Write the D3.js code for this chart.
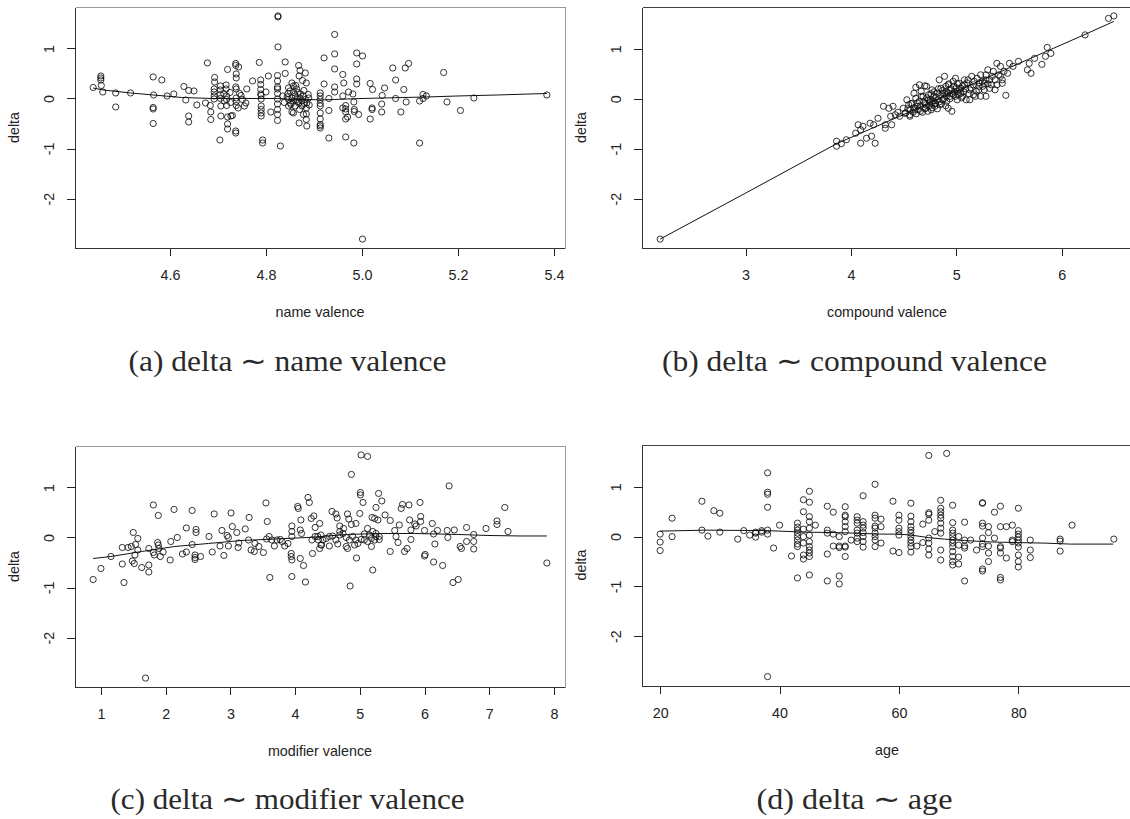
<!DOCTYPE html>
<html>
<head>
<meta charset="utf-8">
<script src="https://cdn.jsdelivr.net/npm/d3@7"></script>
<style>
  body { margin: 0; background: #fff; }
  svg { display: block; }
  .caption { font-family: "Liberation Serif", "Times New Roman", serif; font-size: 28.5px; font-weight: 400; fill: #2a2a2a; }
</style>
</head>
<body>
<svg id="chart" width="1130" height="819"></svg>
<script>
// Values (x, delta)
const namePoints = [
  [4.44,0.22],[4.456,0.45],[4.456,0.41],[4.456,0.37],[4.457,0.26],[4.46,0.13],[4.487,0.11],[4.487,-0.17],
  [4.518,0.11],[4.565,0.43],[4.583,0.37],[4.566,0.07],[4.565,-0.18],[4.565,-0.21],[4.565,-0.5],[4.594,0.05],
  [4.608,0.09],[4.629,0.24],[4.639,0.16],[4.65,0.15],[4.633,-0.03],[4.639,-0.35],[4.639,-0.47],[4.656,-0.13],
  [4.678,0.71],[4.674,-0.09],[4.684,-0.14],[4.685,-0.27],[4.685,-0.42],[4.693,0.42],[4.693,0.33],
  [4.692,0.19],[4.692,0.13],[4.692,0.05],[4.692,-0.01],[4.705,0.25],[4.705,0.17],[4.705,0.08],[4.705,0],
  [4.706,-0.15],[4.706,-0.35],[4.704,-0.83],[4.717,0.27],[4.717,0.19],[4.72,0.58],[4.718,0.05],[4.718,-0.02],
  [4.718,-0.14],[4.72,-0.37],[4.727,-0.35],[4.73,-0.34],[4.72,-0.51],[4.72,-0.61],[4.737,0.7],[4.737,0.66],
  [4.743,0.63],[4.738,0.49],[4.738,0.41],[4.737,0.23],[4.738,0.19],[4.738,0.01],[4.738,-0.06],[4.738,-0.14],
  [4.742,-0.19],[4.737,-0.65],[4.737,-0.69],[4.748,0.06],[4.751,-0.02],[4.758,-0.09],[4.755,-0.15],[4.76,0.19],
  [4.772,0.35],[4.786,0.72],[4.789,0.37],[4.789,0.28],[4.789,0.18],[4.789,0.09],[4.79,0.06],[4.79,-0.01],
  [4.79,-0.15],[4.79,-0.22],[4.79,-0.29],[4.79,-0.35],[4.793,-0.83],[4.793,-0.89],[4.8,0.13],[4.805,0.45],
  [4.81,-0.27],[4.825,1.65],[4.825,1.63],[4.825,1.03],[4.84,0.73],[4.84,0.5],
  [4.824,0.46],[4.824,0.35],[4.824,0.23],[4.824,0.19],[4.824,0.1],[4.824,-0.01],[4.824,-0.11],[4.824,-0.22],
  [4.824,-0.32],[4.824,-0.44],[4.83,-0.95],
  [4.844,0.03],[4.847,-0.02],[4.851,-0.09],[4.854,0.01],[4.857,-0.05],[4.861,0.05],[4.864,-0.02],[4.868,-0.09],
  [4.871,0.01],[4.875,-0.05],[4.878,0.05],[4.882,-0.02],[4.885,-0.09],[4.889,0.01],[4.847,-0.15],[4.861,-0.15],
  [4.875,-0.15],[4.854,-0.27],[4.857,-0.29],[4.847,0.21],[4.854,0.31],[4.857,0.25],[4.864,0.19],[4.869,0.45],
  [4.868,0.66],[4.871,0.56],[4.882,0.51],[4.884,0.31],[4.866,0.12],[4.884,-0.19],[4.884,-0.31],[4.884,-0.42],
  [4.885,-0.55],[4.869,-0.49],[4.846,0.1],[4.858,0.12],[4.872,0.09],[4.879,0.16],[4.852,-0.12],[4.866,-0.06],
  [4.88,-0.1],[4.888,0.08],[4.835,0.05],[4.838,-0.08],
  [4.712,0.1],[4.713,-0.05],[4.725,0.12],[4.726,-0.08],[4.745,0.1],[4.862,0.26],[4.876,0.36],[4.85,0.15],
  [4.87,-0.22],[4.89,-0.13],[4.878,-0.32],
  [4.943,1.28],[4.921,0.81],[4.943,0.89],[4.943,0.59],[4.989,0.91],[5.001,0.85],[4.989,0.69],[4.921,0.29],
  [4.943,0.23],[4.943,0.13],[4.96,0.48],[4.962,0.31],[4.989,0.39],[4.989,0.29],[4.972,0.13],[4.981,0.09],
  [4.96,0.05],[4.983,-0.07],[4.966,-0.14],[4.966,-0.21],[4.966,-0.27],[4.96,-0.19],[4.984,-0.22],[4.984,-0.26],
  [4.993,-0.32],[4.966,-0.41],[4.97,-0.37],[4.931,-0.24],[4.931,0],
  [4.913,0.11],[4.913,0.05],[4.913,-0.02],[4.913,-0.1],[4.913,-0.15],[4.913,-0.29],[4.913,-0.41],[4.913,-0.52],
  [4.913,-0.55],[4.913,-0.59],
  [4.931,-0.79],[4.966,-0.77],[4.983,-0.89],[5.001,-2.81],[5.017,0.3],[5.022,0.18],[5.021,-0.19],[5.021,-0.22],
  [5.017,-0.41],[5.042,0.06],[5.047,0.21],[5.041,-0.11],[5.041,-0.27],[5.064,0.61],[5.07,0.37],[5.07,0],
  [5.09,0.61],[5.097,0.7],[5.087,0.18],[5.092,-0.07],[5.081,-0.27],[5.12,-0.05],[5.127,0],[5.127,0.08],
  [5.134,0.05],[5.12,-0.89],[5.17,0.52],[5.177,-0.07],[5.205,-0.24],[5.233,0.01],[5.385,0.07]
];

const compoundPoints = [
  [2.19,-2.81],
  [3.864,-0.95],[3.864,-0.85],[3.909,-0.9],[3.957,-0.82],[4.045,-0.69],[4.069,-0.52],[4.093,-0.62],[4.093,-0.89],
  [4.148,-0.79],[4.196,-0.75],[4.23,-0.89],[4.114,-0.55],[4.182,-0.49],[4.216,-0.52],[4.257,-0.39],[4.309,-0.15],
  [4.326,-0.59],[4.326,-0.52],[4.36,-0.19],[4.377,-0.35],[4.387,-0.52],[4.4,-0.15],[4.421,-0.32],[4.445,-0.27],
  [4.496,-0.19],[4.531,-0.02],[4.548,-0.12],[4.565,-0.22],[4.582,-0.09],[4.599,0.11],[4.616,0.01],[4.633,-0.15],
  [4.65,-0.05],[4.667,0.15],[4.684,0.05],[4.701,-0.09],[4.718,0.25],[4.736,0.08],[4.753,-0.02],[4.77,0.18],
  [4.787,0.05],[4.804,-0.09],[4.821,0.11],[4.838,0.38],[4.855,0.21],[4.872,-0.02],[4.889,0.45],[4.906,0.15],
  [4.923,0.28],[4.941,0.05],[4.958,-0.25],[4.975,0.25],[4.992,0.41],[5.009,0.15],[5.026,0.31],[5.043,0.21],
  [5.06,0.05],[5.077,0.28],[5.094,-0.02],[5.111,0.38],[5.128,0.18],[5.146,0.45],[5.163,0.28],[5.18,0.05],
  [5.197,0.41],[5.214,0.25],[5.231,0.48],[5.248,0.35],[5.265,0.18],[5.282,0.48],[5.299,0.58],[5.316,0.38],
  [5.333,0.28],[5.351,0.55],[5.368,0.38],[5.385,0.71],[5.402,0.48],[5.419,0.65],[5.436,0.38],[5.453,0.55],
  [5.47,0.07],[5.504,0.71],[5.538,0.65],[5.59,0.75],[5.692,0.71],[5.675,0.58],[5.709,0.51],[5.743,0.81],
  [5.812,0.69],[5.863,1.03],[5.846,0.85],[5.897,0.91],[6.222,1.28],[6.444,1.61],[6.495,1.66],
  [4.462,-0.35],[4.514,-0.29],[4.558,-0.32],[4.606,-0.22],[4.66,-0.25],[4.708,-0.19],[4.763,-0.22],[4.797,-0.15],
  [4.845,-0.12],[4.9,-0.14],[4.923,-0.19],[4.701,0.26],[4.616,0.23],[4.65,0.28],[4.667,0.05],[4.736,-0.02],
  [4.77,-0.09],[4.821,-0.02],[4.872,0.11],[4.906,0.05],[4.941,0.18],[4.975,0.08],[5.009,-0.02],[5.043,0.11],
  [5.077,0.38],[5.163,0.08],[5.214,0.18],[5.265,0.31],[5.316,0.21],[5.385,0.28],[5.231,0.05],[5.282,0.05],
  [5.128,-0.02],[5.368,0.18],[5.419,0.45],[5.436,0.31],[5.487,0.51],
  [4.52,-0.28],[4.54,-0.2],[4.56,-0.35],[4.57,-0.1],[4.59,-0.27],[4.6,-0.18],[4.62,-0.3],[4.63,-0.08],
  [4.64,-0.22],[4.66,-0.14],[4.68,-0.27],[4.69,-0.06],[4.7,-0.2],[4.71,-0.12],[4.72,0.02],[4.73,-0.25],
  [4.74,-0.15],[4.75,-0.06],[4.76,0.1],[4.77,-0.18],[4.78,-0.04],[4.79,0.14],[4.8,-0.1],[4.81,0.03],
  [4.82,-0.2],[4.83,0.2],[4.84,-0.06],[4.85,0.06],[4.86,-0.1],[4.87,0.17],[4.88,0],[4.89,0.1],
  [4.9,0.25],[4.91,-0.05],[4.92,0.12],[4.93,0.3],[4.94,0],[4.95,0.2],[4.96,0.1],[4.97,0.35],
  [4.98,0.14],[4.99,0.05],[5.0,0.22],[5.01,0.3],[5.02,0.08],[5.03,0.18],[5.05,0.02],[5.06,0.26],
  [5.07,0.14],[5.09,0.2],[5.1,0.32],[5.12,0.1],[5.14,0.22],[5.17,0.35],[5.19,0.15],[5.22,0.32],
  [5.25,0.25],[5.28,0.38],[5.3,0.3],[5.34,0.45]
];

const modifierPoints = [
  [0.88,-0.84],[1.0,-0.62],[1.155,-0.38],[1.33,-0.2],[1.33,-0.53],[1.356,-0.9],[1.42,-0.2],[1.47,-0.18],
  [1.5,0.1],[1.536,-0.14],[1.57,-0.02],[1.57,-0.25],[1.526,-0.35],[1.485,-0.47],[1.515,-0.52],[1.63,-0.6],
  [1.74,-0.55],[1.74,-0.69],[1.74,-0.22],[1.81,0.65],[1.81,-0.3],[1.825,-0.35],[1.876,-0.1],[1.887,-0.15],
  [1.897,-0.22],[1.887,0.44],[1.96,-0.29],[1.918,-0.38],[2.07,-0.45],[2.08,-0.08],[2.13,0.56],[2.18,0],
  [2.26,-0.33],[2.32,0.19],[2.32,-0.29],[2.41,0.54],[2.41,-0.14],[2.454,-0.35],[2.454,-0.4],[2.454,-0.44],
  [2.47,0.16],[2.47,0.1],[2.54,-0.38],[2.67,0.02],[2.75,0.47],[2.72,-0.29],[2.87,0.14],[2.9,-0.36],
  [2.95,0.04],[2.97,0],[3.01,0.49],[3.03,0.22],[3.1,0.1],[2.84,-0.17],[2.97,-0.17],[3.12,-0.2],
  [3.13,-0.11],[3.23,0.17],[3.29,0.4],[3.28,-0.05],[3.32,-0.25],[3.38,-0.12],[3.37,-0.28],[3.44,-0.18],
  [3.51,-0.3],[3.55,0.69],[3.57,0.32],[3.61,-0.8],[3.56,-0.03],[3.6,0.02],[3.64,-0.05],[3.68,-0.17],
  [3.72,-0.05],[3.77,-0.04],[3.8,-0.08],[3.84,-0.17],[3.89,-0.12],[3.95,0.23],[3.95,0.12],[3.95,0.02],
  [3.94,-0.32],[3.94,-0.38],[3.95,-0.45],[3.95,-0.78],[4.04,0.62],[4.05,0.58],[4.09,0.35],[4.08,0.15],
  [4.1,0.08],[4.08,-0.42],[4.13,-0.56],[4.16,-0.89],[4.2,0.8],[4.22,0.7],[4.25,0.38],[4.29,0.43],
  [4.26,-0.05],[4.31,0.02],[4.36,-0.05],[4.41,-0.15],[4.27,-0.32],[4.31,0.2],[4.38,0.28],[1.69,-2.81],
  [5.02,1.65],[5.12,1.62],[4.87,1.26],[5.01,0.9],[5.01,0.85],[5.05,0.7],[5.29,0.88],[5.34,0.73],
  [5.25,0.6],[5.0,0.48],[5.19,0.4],[5.23,0.38],[5.28,0.35],[5.39,0.45],[5.47,0.34],[4.57,0.52],
  [4.63,0.47],[4.65,0.39],[4.81,0.47],[4.83,0.37],[4.94,0.28],[4.87,0.26],[4.69,0.23],[4.75,0.18],
  [4.69,0.12],[5.12,0.18],[5.07,0.07],[5.15,0.05],[5.2,0.12],[5.25,0.08],[5.3,0.02],
  [4.35,0.02],[4.4,0.05],[4.43,-0.05],[4.48,-0.02],[4.53,0.02],[4.58,0.03],[4.63,-0.05],[4.69,0.05],
  [4.74,0.08],[4.79,0],[4.84,-0.05],[4.89,0.02],[4.94,-0.05],[4.4,-0.15],[4.53,-0.17],[4.66,-0.13],
  [4.79,-0.18],[4.92,-0.15],[4.38,-0.22],[4.81,-0.22],[4.97,-0.12],[5.02,-0.04],[5.07,-0.05],[5.12,-0.08],
  [5.18,-0.02],[5.23,-0.05],[5.18,-0.18],[5.25,0.02],[5.3,-0.04],
  [4.95,-0.41],[4.85,-0.97],[5.2,-0.65],[5.47,-0.28],[5.69,-0.28],[5.73,-0.22],[5.61,0.25],[5.64,0.58],
  [5.66,0.66],[5.76,0.65],[5.56,0.02],[5.59,-0.1],[5.54,0.14],[5.79,-0.04],[5.77,0.35],[5.79,0.15],
  [5.93,0.7],[5.94,0.42],[5.94,0.32],[5.87,0.23],[5.85,0.27],[6.0,0.14],[6.12,0.28],[6.14,0.07],
  [6.2,0.14],[6.0,-0.37],[6.01,-0.34],[6.16,-0.13],[6.14,-0.49],[6.28,-0.56],[6.38,1.03],[6.35,0.14],
  [6.36,0],[6.46,0.15],[6.44,-0.9],[6.52,-0.84],[6.55,-0.18],[6.57,-0.22],[6.65,0.2],[6.65,-0.08],
  [6.76,0.06],[6.76,-0.08],[6.76,-0.23],[6.95,0.18],[7.12,0.33],[7.12,0.26],[7.24,0.6],[7.29,0.12],
  [7.89,-0.51]
];

const agePoints = [
  [20,0.05],[20,-0.11],[20,-0.28],[22,0.37],[22,0],[27,0.71],[27,0.13],[28,0.01],[29,0.52],[30,0.47],[30,0.09],
  [33,-0.05],[34,0.12],[35,0.03],[36,-0.01],[36,0.07],[36,0.09],[37,0.12],[37,0.09],[38,1.28],[38,0.89],[38,0.85],
  [38,0.59],[38,0.13],[38,0.05],[38,-2.81],[39,-0.23],[40,0.23],[42,-0.39],
  [43,0.27],[43,0.19],[43,0.13],[43,0.07],[43,0],[43,-0.07],[43,-0.15],[43,-0.2],[43,-0.83],
  [44,0.74],[44,0.5],[44,0.15],[44,0],[44,-0.13],[44,-0.37],[44,-0.45],
  [45,0.91],[45,0.69],[45,0.4],[45,0.3],[45,0.17],[45,0.03],[45,-0.1],[45,-0.2],[45,-0.27],[45,-0.33],[45,-0.4],[45,-0.77],
  [46,0.23],[48,0.61],[48,0.13],[48,0.07],[48,-0.35],[48,-0.89],[49,0.49],[49,0.05],[50,0],[50,-0.19],[50,-0.22],
  [50,-0.79],[50,-0.95],[49,-0.19],
  [51,0.6],[51,0.43],[51,0.4],[51,0.3],[51,0.2],[51,0.1],[51,-0.19],[51,-0.21],[51,-0.4],[52,-0.07],
  [53,0.4],[53,0.33],[53,0.27],[53,0.13],[53,0.07],[53,-0.03],[53,-0.1],
  [54,0.82],[54,0.3],[54,0.23],[54,0.17],[54,0.08],[54,0],[54,-0.1],[54,-0.21],
  [56,1.05],[56,0.43],[56,0.37],[56,0.21],[56,0.17],[56,0.07],[56,0],[56,-0.07],[56,-0.2],
  [57,0.35],[57,0.2],[57,-0.13],
  [59,0.71],[59,-0.29],[60,0.43],[60,0.33],[60,0.17],[60,0.1],[60,0.03],[60,-0.32],
  [62,0.67],[62,0.41],[62,0.3],[62,0.2],[62,0.13],[62,0.07],[62,0],[62,-0.07],[62,-0.13],[62,-0.2],[62,-0.31],
  [63,-0.19],[64,0.25],[64,-0.12],
  [65,0.48],[65,0.45],[65,0.33],[65,-0.03],[65,-0.13],[65,-0.25],[65,-0.37],[65,1.63],[66,0.1],
  [67,0.73],[67,0.57],[67,0.5],[67,0.43],[67,0.37],[67,0.27],[67,0.17],[67,0.07],[67,-0.27],[67,-0.47],[68,1.67],
  [69,0.63],[69,0.28],[69,0.13],[69,0.07],[69,0],[69,-0.07],[69,-0.13],[69,-0.2],[69,-0.3],[69,-0.4],[69,-0.5],[69,-0.57],
  [70,0],[70,-0.17],[70,-0.41],[70,-0.55],
  [71,0.29],[71,-0.07],[71,-0.19],[71,-0.23],[71,-0.89],[72,-0.07],[73,-0.27],
  [74,0.68],[74,0.67],[74,0.27],[74,0.21],[74,-0.03],[74,-0.15],[74,-0.2],[74,-0.65],[74,-0.69],
  [75,0.2],[75,0.08],[75,-0.19],[75,-0.33],[75,-0.5],[76,0.49],[76,-0.03],
  [77,0.61],[77,0.2],[77,-0.2],[77,-0.23],[77,-0.33],[77,-0.82],[77,-0.87],[78,0.2],[78,-0.43],
  [79,0.23],[79,-0.07],[79,-0.1],
  [80,0.57],[80,0.12],[80,0.05],[80,-0.01],[80,-0.07],[80,-0.13],[80,-0.21],[80,-0.37],[80,-0.5],[80,-0.61],
  [82,-0.07],[82,-0.27],[82,-0.42],[87,-0.05],[87,-0.09],[87,-0.29],[89,0.23],[96,-0.05]
];

// Smoothed curves
const nameSmooth = [[4.44,0.21],[4.461,0.17],[4.518,0.11],[4.565,0.07],[4.624,0.02],[4.687,0],[4.739,0],[4.791,0],
  [4.824,0],[4.854,-0.02],[4.889,-0.02],[4.915,-0.03],[4.942,-0.02],[5.0,0],[5.047,0.01],[5.134,0.03],[5.2,0.05],
  [5.283,0.07],[5.385,0.1]];
const compoundSmooth = [[2.19,-2.81],[3.0,-1.89],[3.864,-0.9],[4.496,-0.32],[4.838,0.01],[5.043,0.19],
  [5.385,0.51],[5.726,0.83],[6.222,1.29],[6.495,1.55]];
const modifierSmooth = [[0.88,-0.42],[1.155,-0.38],[1.63,-0.28],[2.14,-0.18],[2.66,-0.12],[3.18,-0.06],[3.69,-0.03],
  [4.2,0],[4.81,0.06],[5.33,0.08],[5.85,0.08],[6.52,0.06],[6.98,0.04],[7.49,0.03],[7.89,0.03]];
const ageSmooth = [[20,0.11],[27.6,0.13],[38,0.12],[44.2,0.09],[49.8,0.08],[57,0.05],[60,0.05],[62.1,0.03],
  [64.9,-0.02],[67.6,-0.05],[71,-0.08],[76,-0.11],[79.8,-0.12],[84.3,-0.13],[88.7,-0.15],[95.9,-0.15]];

const nameTicks = [4.6, 4.8, 5.0, 5.2, 5.4];
const nameTickLabels = ["4.6", "4.8", "5.0", "5.2", "5.4"];
const compoundTicks = [3, 4, 5, 6];
const modifierTicks = [1, 2, 3, 4, 5, 6, 7, 8];
const ageTicks = [20, 40, 60, 80];
const deltaTicks = [-2, -1, 0, 1];

const xLabels = ["name valence", "compound valence", "modifier valence", "age"];
const captions = ["(a) delta \u223C name valence", "(b) delta \u223C compound valence",
  "(c) delta \u223C modifier valence", "(d) delta \u223C age"];

// Layout (pixels)
const BOX_W = 490;
const BOX_H = 241;
const TICK = 8;
const FONT = '"Liberation Sans", Arial, sans-serif';
const FONT_SIZE = 14.3;

// the left-hand images were cropped, so their top/right frame edges look faint
const panels = [
  { pts: namePoints, smooth: nameSmooth, ticks: nameTicks, labels: nameTickLabels, left: 75, top: 7, edge: "#999" },
  { pts: compoundPoints, smooth: compoundSmooth, ticks: compoundTicks, left: 642, top: 7, edge: "#444" },
  { pts: modifierPoints, smooth: modifierSmooth, ticks: modifierTicks, left: 75, top: 446, edge: "#999" },
  { pts: agePoints, smooth: ageSmooth, ticks: ageTicks, left: 642, top: 444.5, edge: "#444" },
];

// caption centre x, baseline y, and set width (Computer Modern is wider than Times)
const captionPos = [
  { x: 287.5, y: 371, w: 318 }, { x: 854.5, y: 371, w: 385 },
  { x: 287.5, y: 809, w: 354 }, { x: 854.5, y: 809, w: 196 },
];

// R pads the data range by 4% on each side
function rDomain(values) {
  const [lo, hi] = d3.extent(values);
  const pad = (hi - lo) * 0.04;
  return [lo - pad, hi + pad];
}

const svg = d3.select("#chart");

function drawPanel(p, i) {
  const g = svg.append("g").attr("transform", `translate(${p.left},${p.top})`);

  const x = d3.scaleLinear().domain(rDomain(p.pts.map(d => d[0]))).range([0, BOX_W]);
  const y = d3.scaleLinear().domain(rDomain(p.pts.map(d => d[1]))).range([BOX_H, 0]);

  const fmt = p.labels ? ((d, k) => p.labels[k]) : d3.format("d");

  const ax = g.append("g")
    .attr("transform", `translate(0,${BOX_H})`)
    .call(d3.axisBottom(x).tickValues(p.ticks).tickFormat(fmt).tickSize(TICK).tickSizeOuter(0).tickPadding(14));
  ax.select(".domain").remove();

  const ay = g.append("g")
    .call(d3.axisLeft(y).tickValues(deltaTicks).tickFormat(d3.format("d")).tickSize(TICK).tickSizeOuter(0));
  ay.select(".domain").remove();
  // R draws y tick labels parallel to the axis
  ay.selectAll(".tick text")
    .text(d => String(d))
    .attr("transform", "rotate(-90)")
    .attr("x", 0)
    .attr("y", -26)
    .attr("dy", "0.35em")
    .attr("text-anchor", "middle");

  [ax, ay].forEach(a => {
    a.attr("font-family", FONT).attr("font-size", FONT_SIZE);
    a.selectAll(".tick text").attr("fill", "#222");
    a.selectAll(".tick line").attr("stroke", "#222").attr("shape-rendering", "crispEdges");
  });

  // frame: left and bottom dark, top and right per panel
  const frame = g.append("g").attr("shape-rendering", "crispEdges").attr("fill", "none");
  frame.append("path").attr("stroke", "#333")
    .attr("d", `M0.5,0.5V${BOX_H + 0.5}H${BOX_W + 0.5}`);
  frame.append("path").attr("stroke", p.edge)
    .attr("d", `M0.5,0.5H${BOX_W + 0.5}V${BOX_H + 0.5}`);

  g.append("g")
    .selectAll("circle")
    .data(p.pts)
    .join("circle")
    .attr("cx", d => x(d[0]))
    .attr("cy", d => y(d[1]))
    .attr("r", 3.1)
    .attr("fill", "none")
    .attr("stroke", "#111")
    .attr("stroke-width", 0.85);

  g.append("path")
    .datum(p.smooth)
    .attr("fill", "none")
    .attr("stroke", "#111")
    .attr("stroke-width", 1)
    .attr("d", d3.line().x(d => x(d[0])).y(d => y(d[1])));

  g.append("text")
    .attr("x", BOX_W / 2)
    .attr("y", BOX_H + 64)
    .attr("dy", "0.35em")
    .attr("text-anchor", "middle")
    .attr("font-family", FONT)
    .attr("font-size", FONT_SIZE)
    .attr("fill", "#222")
    .text(xLabels[i]);

  g.append("text")
    .attr("transform", `translate(-61,${BOX_H / 2}) rotate(-90)`)
    .attr("dy", "0.35em")
    .attr("text-anchor", "middle")
    .attr("font-family", FONT)
    .attr("font-size", FONT_SIZE)
    .attr("fill", "#222")
    .text("delta");
}

panels.forEach(drawPanel);

svg.selectAll("text.caption")
  .data(captions)
  .join("text")
  .attr("class", "caption")
  .attr("x", (d, i) => captionPos[i].x)
  .attr("y", (d, i) => captionPos[i].y)
  .attr("text-anchor", "middle")
  .attr("textLength", (d, i) => captionPos[i].w)
  .attr("lengthAdjust", "spacingAndGlyphs")
  .text(d => d);
</script>
</body>
</html>
